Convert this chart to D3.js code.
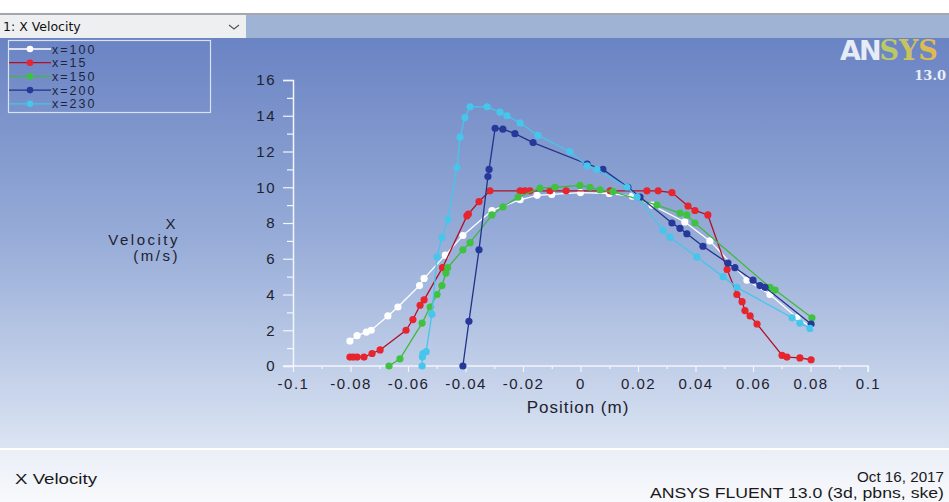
<!DOCTYPE html>
<html>
<head>
<meta charset="utf-8">
<script src="https://cdn.jsdelivr.net/npm/d3@7"></script>
<style>
  html, body { margin: 0; padding: 0; background: #fff; }
  svg { display: block; font-family: "Liberation Sans", Arial, sans-serif; }
</style>
</head>
<body>
<svg id="chart" width="949" height="502"></svg>
<script>
// series: position (m) and x velocity (m/s)
let names = ["x=100", "x=15", "x=150", "x=200", "x=230"];
let colors = ["#ffffff", "#e8242c", "#3fc23f", "#26389a", "#45c6ea"];
let lineColors = ["#ffffff", "#b0102a", "#3fb83f", "#22328a", "#45c6ea"];

let pos100 = [-0.0802, -0.0777, -0.0745, -0.0728, -0.0670, -0.0635, -0.0560, -0.0544, -0.0470, -0.0409, -0.0308, -0.0210, -0.0151, -0.0100, 0.0000, 0.0100, 0.0180, 0.0249, 0.0363, 0.0450, 0.0579, 0.0659, 0.0753, 0.0800];
let vel100 = [1.4, 1.7, 1.9, 2.0, 2.8, 3.3, 4.5, 4.9, 6.2, 7.3, 8.7, 9.3, 9.55, 9.6, 9.7, 9.65, 9.5, 9.0, 8.06, 7.0, 4.8, 4.0, 2.7, 2.2];

let pos15 = [-0.0802, -0.0790, -0.0777, -0.0753, -0.0725, -0.0697, -0.0607, -0.0583, -0.0558, -0.0544, -0.0480, -0.0395, -0.0390, -0.0353, -0.0315, -0.0210, -0.0193, -0.0176, -0.0106, -0.0050, 0.0103, 0.0231, 0.0270, 0.0318, 0.0374, 0.0398, 0.0443, 0.0510, 0.0544, 0.0562, 0.0572, 0.0590, 0.0614, 0.0701, 0.0718, 0.0763, 0.0802];
let vel15 = [0.5, 0.5, 0.5, 0.5, 0.7, 0.9, 2.0, 2.6, 3.4, 3.7, 5.5, 8.4, 8.5, 9.2, 9.8, 9.8, 9.8, 9.8, 9.8, 9.8, 9.8, 9.8, 9.8, 9.7, 8.95, 8.7, 8.45, 5.4, 4.0, 3.6, 3.1, 2.8, 2.35, 0.6, 0.5, 0.45, 0.35];

let pos150 = [-0.0666, -0.0628, -0.0551, -0.0523, -0.0499, -0.0482, -0.0468, -0.0462, -0.0409, -0.0384, -0.0308, -0.0270, -0.0217, -0.0141, -0.0089, -0.0002, 0.0033, 0.0068, 0.0113, 0.0266, 0.0346, 0.0370, 0.0398, 0.0659, 0.0677, 0.0805];
let vel150 = [0.0, 0.4, 2.4, 3.3, 4.0, 4.5, 5.2, 5.5, 6.5, 6.9, 8.45, 8.9, 9.45, 9.95, 10.0, 10.1, 10.0, 9.85, 9.75, 9.0, 8.55, 8.45, 8.0, 4.4, 4.25, 2.7];

let pos200 = [-0.0409, -0.0388, -0.0353, -0.0322, -0.0318, -0.0297, -0.0270, -0.0228, -0.0165, 0.0023, 0.0078, 0.0165, 0.0207, 0.0318, 0.0346, 0.0370, 0.0426, 0.0513, 0.0537, 0.0600, 0.0624, 0.0642, 0.0802];
let vel200 = [0.0, 2.5, 6.5, 10.6, 11.0, 13.3, 13.25, 13.0, 12.5, 11.3, 11.0, 10.0, 9.45, 8.0, 7.7, 7.4, 6.7, 5.75, 5.5, 4.8, 4.5, 4.4, 2.35];

let pos230 = [-0.0551, -0.0550, -0.0548, -0.0537, -0.0517, -0.0499, -0.0482, -0.0461, -0.0430, -0.0419, -0.0402, -0.0384, -0.0325, -0.0280, -0.0256, -0.0210, -0.0148, -0.0037, 0.0023, 0.0057, 0.0162, 0.0197, 0.0287, 0.0311, 0.0405, 0.0496, 0.0544, 0.0736, 0.0763, 0.0798];
let vel230 = [0.0, 0.5, 0.7, 0.8, 2.9, 6.1, 7.2, 8.2, 11.1, 12.8, 13.9, 14.5, 14.5, 14.2, 14.0, 13.6, 12.9, 12.0, 11.2, 11.0, 10.0, 9.45, 7.6, 7.2, 6.1, 5.0, 4.4, 2.7, 2.4, 2.1];

let xTicks = [-0.1, -0.08, -0.06, -0.04, -0.02, 0, 0.02, 0.04, 0.06, 0.08, 0.1];
let xMinor = [-0.09, -0.07, -0.05, -0.03, -0.01, 0.01, 0.03, 0.05, 0.07, 0.09];
let yTicks = [0, 2, 4, 6, 8, 10, 12, 14, 16];
let yMinor = [1, 3, 5, 7, 9, 11, 13, 15];

let series = [
  {pos: pos100, vel: vel100},
  {pos: pos15, vel: vel15},
  {pos: pos150, vel: vel150},
  {pos: pos200, vel: vel200},
  {pos: pos230, vel: vel230}
];

let svg = d3.select("#chart");
let defs = svg.append("defs");

let panelGrad = defs.append("linearGradient").attr("id", "panel")
  .attr("x1", 0).attr("y1", 0).attr("x2", 0).attr("y2", 1);
panelGrad.append("stop").attr("offset", "0%").attr("stop-color", "#6a83c3");
panelGrad.append("stop").attr("offset", "50%").attr("stop-color", "#98add8");
panelGrad.append("stop").attr("offset", "100%").attr("stop-color", "#dbe4f2");

let footGrad = defs.append("linearGradient").attr("id", "foot")
  .attr("x1", 0).attr("y1", 0).attr("x2", 0).attr("y2", 1);
footGrad.append("stop").attr("offset", "0%").attr("stop-color", "#eaeff7");
footGrad.append("stop").attr("offset", "100%").attr("stop-color", "#f8f9fc");

let logoGrad = defs.append("linearGradient").attr("id", "logo")
  .attr("x1", 0).attr("y1", 0).attr("x2", 1).attr("y2", 0);
logoGrad.append("stop").attr("offset", "0%").attr("stop-color", "#e0d64a");
logoGrad.append("stop").attr("offset", "50%").attr("stop-color", "#b8c86a");
logoGrad.append("stop").attr("offset", "100%").attr("stop-color", "#e6b84a");

// window frame
svg.append("rect").attr("x", 0).attr("y", 0).attr("width", 949).attr("height", 13).attr("fill", "#ffffff");
svg.append("rect").attr("x", 0).attr("y", 13).attr("width", 949).attr("height", 2).attr("fill", "#a4a8ae");
svg.append("rect").attr("x", 0).attr("y", 15).attr("width", 949).attr("height", 23).attr("fill", "#9fb4d4");
svg.append("rect").attr("x", 0).attr("y", 15).attr("width", 246).attr("height", 23).attr("fill", "#eeeff1");
svg.append("text").attr("x", 3).attr("y", 31).text("1: X Velocity")
  .style("font-family", "'DejaVu Sans', sans-serif").style("font-size", "12.5px").attr("fill", "#111");
svg.append("path").attr("d", "M229,25 L234,29 L239,25").attr("fill", "none").attr("stroke", "#555").attr("stroke-width", 1.2);

svg.append("rect").attr("x", 0).attr("y", 38).attr("width", 949).attr("height", 410).attr("fill", "url(#panel)");
svg.append("rect").attr("x", 0).attr("y", 448).attr("width", 949).attr("height", 2).attr("fill", "#ffffff");
svg.append("rect").attr("x", 0).attr("y", 450).attr("width", 949).attr("height", 52).attr("fill", "url(#foot)");

// logo
let logo = svg.append("text").attr("x", 840).attr("y", 60)
  .style("font-family", "'DejaVu Sans', sans-serif").style("font-weight", "bold").style("font-size", "27px");
logo.append("tspan").text("AN").attr("fill", "#e6ecf7").style("letter-spacing", "-2px");
logo.append("tspan").text("SYS").attr("fill", "url(#logo)").style("font-family", "'DejaVu Serif', serif");
svg.append("text").attr("x", 946).attr("y", 80).attr("text-anchor", "end").text("13.0")
  .style("font-family", "'DejaVu Serif', serif").style("font-weight", "bold").style("font-size", "13px").attr("fill", "#e8eef8");

let x = d3.scaleLinear().domain([-0.1, 0.1]).range([293, 868]);
let y = d3.scaleLinear().domain([0, 16]).range([366, 80]);

let axisColor = "#f2f5fb";
let tickFont = "'Liberation Sans', Arial, sans-serif";

let gx = svg.append("g").attr("transform", `translate(0,${y(0)})`)
  .call(d3.axisBottom(x).tickValues(xTicks).tickSize(6).tickPadding(6)
    .tickFormat(d => d === 0 ? "0" : String(+d.toFixed(2))));
let gxm = svg.append("g").attr("transform", `translate(0,${y(0)})`)
  .call(d3.axisBottom(x).tickValues(xMinor).tickSize(3).tickFormat(""));
let gy = svg.append("g").attr("transform", `translate(${x(-0.1)},0)`)
  .call(d3.axisLeft(y).tickValues(yTicks).tickSize(10).tickPadding(7));
let gym = svg.append("g").attr("transform", `translate(${x(-0.1)},0)`)
  .call(d3.axisLeft(y).tickValues(yMinor).tickSize(6).tickFormat(""));

[gx, gxm, gy, gym].forEach(g => {
  g.select(".domain").attr("stroke", axisColor).attr("stroke-width", 1.5);
  g.selectAll(".tick line").attr("stroke", axisColor).attr("stroke-width", 1.2);
  g.selectAll("text").attr("fill", "#1e2230").style("font-family", tickFont)
    .style("font-size", "15px").style("letter-spacing", "1.5px");
});
gxm.select(".domain").remove();
gym.select(".domain").remove();
gx.select(".domain").attr("d", `M${x(-0.1) - 10},0H${x(0.1)}V6`);

// axis titles
svg.append("text").attr("x", 578).attr("y", 413).attr("text-anchor", "middle").text("Position (m)")
  .style("font-family", tickFont).style("font-size", "17px").style("letter-spacing", "1px").attr("fill", "#1e2230");
let ylab = svg.append("text").attr("text-anchor", "end")
  .style("font-family", tickFont).style("font-size", "15px").style("letter-spacing", "2.5px").attr("fill", "#1e2230");
["X", "Velocity", "(m/s)"].forEach((t, i) => {
  ylab.append("tspan").attr("x", i === 0 ? 178 : 180).attr("y", 229 + i * 16).text(t);
});

// series
let line = d3.line().x(d => x(d[0])).y(d => y(d[1]));
series.forEach((s, i) => {
  let pts = s.pos.map((p, j) => [p, s.vel[j]]);
  let g = svg.append("g");
  g.append("path").attr("d", line(pts)).attr("fill", "none")
    .attr("stroke", lineColors[i]).attr("stroke-width", 1.3);
  g.selectAll("circle").data(pts).join("circle")
    .attr("cx", d => x(d[0])).attr("cy", d => y(d[1])).attr("r", 3.6)
    .attr("fill", colors[i]);
});

// legend
let leg = svg.append("g");
leg.append("rect").attr("x", 8.5).attr("y", 40.5).attr("width", 202).attr("height", 72)
  .attr("fill", "none").attr("stroke", "#d8e2f2").attr("stroke-width", 1.2);
names.forEach((n, i) => {
  let yy = 49 + i * 13.7;
  leg.append("line").attr("x1", 9).attr("x2", 51).attr("y1", yy).attr("y2", yy)
    .attr("stroke", lineColors[i]).attr("stroke-width", 1.3);
  leg.append("circle").attr("cx", 30).attr("cy", yy).attr("r", 3.3).attr("fill", colors[i]);
  leg.append("text").attr("x", 52).attr("y", yy + 4.5).text(n)
    .style("font-family", tickFont).style("font-size", "12.5px").style("letter-spacing", "2px")
    .attr("fill", "#1e2440");
});

// footer, stretched to the widths of the source
let footFont = "'Liberation Sans', Arial, sans-serif";
let footer = [
  {t: "X Velocity", x: 15, y: 484, w: 82, anchor: "start"},
  {t: "Oct 16, 2017", x: 944, y: 482, w: 87, anchor: "end"},
  {t: "ANSYS FLUENT 13.0 (3d, pbns, ske)", x: 944, y: 498, w: 294, anchor: "end"}
];
footer.forEach(f => {
  svg.append("text").attr("x", f.anchor === "end" ? f.x - f.w : f.x).attr("y", f.y).text(f.t)
    .attr("textLength", f.w).attr("lengthAdjust", "spacingAndGlyphs")
    .style("font-family", footFont).style("font-size", "14.5px").attr("fill", "#1a1a1a");
});
</script>
</body>
</html>
